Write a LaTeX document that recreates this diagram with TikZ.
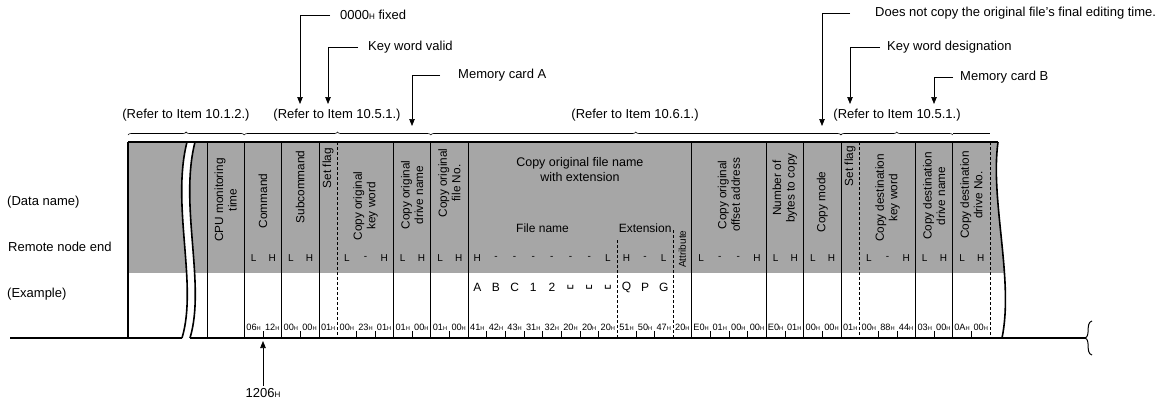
\documentclass[tikz,border=0pt]{standalone}
\usepackage{fontspec}
\usepackage{graphicx}
\setmainfont{Liberation Sans}
\newfontfamily\blankfont{DejaVu Sans}
\usetikzlibrary{arrows.meta,decorations.pathreplacing}

\newcommand{\hx}[1]{#1\scalebox{0.62}{H}}
\newcommand{\blank}{{\blankfont ␣}}
\newcommand{\bw}{18.643}

\tikzset{
  lbl/.style={font=\fontsize{13}{15}\selectfont, inner sep=0pt},
  hdr/.style={font=\fontsize{11.8}{13.5}\selectfont, rotate=90, align=center, inner sep=0pt},
  lh/.style={font=\fontsize{10}{11}\selectfont, inner sep=0pt},
  val/.style={font=\fontsize{9.2}{10}\selectfont, inner sep=0pt},
  pointer/.style={-{Triangle[length=7pt,width=5.5pt]}, line width=0.7pt},
  refbrace/.style={decorate, decoration={brace, amplitude=3pt}, line width=0.6pt},
  thickline/.style={line width=1.6pt},
  thinline/.style={line width=0.5pt},
  halftone/.style={fill=black!35}
}

\begin{document}
\begin{tikzpicture}[x=1pt,y=-1pt]
\useasboundingbox (0,0) rectangle (1166,405);

% shaded header band
\begin{scope}
  \clip (128,142) -- (998,142) .. controls (990,200) and (1014,280) .. (1002,338) -- (128,338) -- cycle;
  \fill[halftone] (128,142) rectangle (1020,273);
\end{scope}

% break in the frame
\fill[white] (187,142) .. controls (171,205) and (198,285) .. (182,338)
  -- (190,338) .. controls (206,285) and (179,205) .. (195,142) -- cycle;
\draw[thickline] (187,142) .. controls (171,205) and (198,285) .. (182,338);
\draw[thickline] (195,142) .. controls (179,205) and (206,285) .. (190,338);

% frame
\draw[thickline] (128,142) -- (998,142);
\draw[thickline] (128,142) -- (128,338);
\draw[thickline] (10,338) -- (182,338);
\draw[thickline] (190,338) -- (1085,338);
\draw[thickline] (998,142) .. controls (990,200) and (1014,280) .. (1002,338);
\draw[line width=1pt] (1092,321) .. controls (1085,323) and (1091,336) .. (1085,338)
  .. controls (1091,340) and (1085,353) .. (1092,355);

% column lines
\foreach \i in {0,2,4,6,10,12,14,26,30,32,34,38,40}
  \draw[thinline] ({207+\bw*\i},142) -- ({207+\bw*\i},338);
\foreach \i in {7,35,42}
  \draw[thinline,dash pattern=on 3pt off 2pt] ({207+\bw*\i},142) -- ({207+\bw*\i},338);
\draw[thinline,dash pattern=on 3pt off 2pt] ({207+\bw*22},240) -- ({207+\bw*22},338);
\draw[thinline,dash pattern=on 3pt off 2pt] ({207+\bw*25},230) -- ({207+\bw*25},338);

% byte ticks
\foreach \i in {3,5,8,9,11,13,15,16,17,18,19,20,21,23,24,27,28,29,31,33,36,37,39,41}
  \draw[thinline] ({207+\bw*\i},331) -- ({207+\bw*\i},338);

% data names
\foreach \a/\b/\y/\txt in {0/2/200/{CPU monitoring\\time}, 2/4/201/Command,
    4/6/187/Subcommand, 6/7/168/Set flag, 7/10/206/{Copy original\\key word},
    10/12/195/{Copy original\\drive name}, 12/14/183/{Copy original\\file No.},
    26/30/195/{Copy original\\offset address}, 30/32/188/{Number of\\bytes to copy},
    32/34/202/Copy mode, 34/35/166/Set flag, 35/38/198/{Copy destination\\key word},
    38/40/196/{Copy destination\\drive name}, 40/42/195/{Copy destination\\drive No.}}
  \node[hdr] at ({207+\bw*(\a+\b)/2},\y) {\txt};
\node[lbl, align=center, font=\fontsize{12.5}{15}\selectfont] (fnhdr) at ({207+\bw*20},170) {Copy original file name\\with extension};
\node[lbl, font=\fontsize{12}{14}\selectfont] (fname) at ({207+\bw*18},228) {File name};
\node[lbl, font=\fontsize{12}{14}\selectfont] (fext) at ({207+\bw*23.5},228) {Extension};
\node[hdr, anchor=west, font=\fontsize{10}{12}\selectfont] (attr) at ({207+\bw*25.5},268) {Attribute};

% byte order
\foreach \i/\t in {2/L,3/H,4/L,5/H,7/L,8/-,9/H,10/L,11/H,12/L,13/H,14/H,15/-,16/-,17/-,
    18/-,19/-,20/-,21/L,22/H,23/-,24/L,26/L,27/-,28/-,29/H,30/L,31/H,32/L,33/H,
    35/L,36/-,37/H,38/L,39/H,40/L,41/H}
  \node[lh] at ({207+\bw*(\i+0.5)},258) {\t};

% example characters
\foreach \i/\t in {14/A,15/B,16/C,17/1,18/2,19/\blank,20/\blank,21/\blank,22/Q,23/P,24/G}
  \node[lbl, font=\fontsize{12}{14}\selectfont] at ({207+\bw*(\i+0.5)},287) {\t};

% example values
\foreach \v [count=\i from 2] in {06,12,00,00,01,00,23,01,01,00,01,00,41,42,43,31,32,20,20,20,
    51,50,47,20,E0,01,00,00,E0,01,00,00,01,00,88,44,03,00,0A,00}
  \node[val] at ({207+\bw*(\i+0.5)},327) {\hx{\v}};

% row names
\node[lbl, anchor=west] (dataname) at (7,202) {(Data name)};
\node[lbl, anchor=west] (remote) at (8,247) {Remote node end};
\node[lbl, anchor=west] (example) at (7,294) {(Example)};

% references
\node[lbl] (ref1) at (186,115) {(Refer to Item 10.1.2.)};
\node[lbl] (ref2) at (337,115) {(Refer to Item 10.5.1.)};
\node[lbl] (ref3) at (635,115) {(Refer to Item 10.6.1.)};
\node[lbl] (ref4) at (897,115) {(Refer to Item 10.5.1.)};
\draw[refbrace] (128,135) -- ({207+\bw*2},135);
\draw[refbrace] ({207+\bw*2},135) -- ({207+\bw*12},135);
\draw[refbrace] ({207+\bw*12},135) -- ({207+\bw*34},135);
\draw[refbrace] ({207+\bw*34},135) -- ({207+\bw*40},135);
\draw[line width=0.6pt] ({207+\bw*40},133.5) -- (990,133.5);

% notes
\node[lbl, anchor=west] (fixed) at (340,15) {\hx{0000} fixed};
\node[lbl, anchor=west] (kwvalid) at (368,47) {Key word valid};
\node[lbl, anchor=west] (cardA) at (458,75) {Memory card A};
\node[lbl, anchor=west] (notime) at (875,13) {Does not copy the original file's final editing time.};
\node[lbl, anchor=west] (kwdesig) at (887,47) {Key word designation};
\node[lbl, anchor=west] (cardB) at (960,77) {Memory card B};
\node[lbl] (cmdval) at (263,393) {\hx{1206}};
\coordinate (fixedtip) at (300,104);
\coordinate (kwvalidtip) at (328,104);
\coordinate (cardAtip) at (412,126);
\coordinate (notimetip) at (822,126);
\coordinate (kwdesigtip) at (850,104);
\coordinate (cardBtip) at (934,104);
\coordinate (cmdtip) at (263,341);
\draw[pointer] ([xshift=-10pt]fixed.west) -| (fixedtip);
\draw[pointer] ([xshift=-10pt]kwvalid.west) -| (kwvalidtip);
\draw[pointer] ([xshift=-18pt]cardA.west) -| (cardAtip);
\draw[pointer] ([xshift=-25pt]notime.west) -| (notimetip);
\draw[pointer] ([xshift=-7pt]kwdesig.west) -| (kwdesigtip);
\draw[pointer] ([xshift=-7pt]cardB.west) -| (cardBtip);
\draw[pointer] ([yshift=2pt]cmdval.north) -- (cmdtip);
\end{tikzpicture}
\end{document}
